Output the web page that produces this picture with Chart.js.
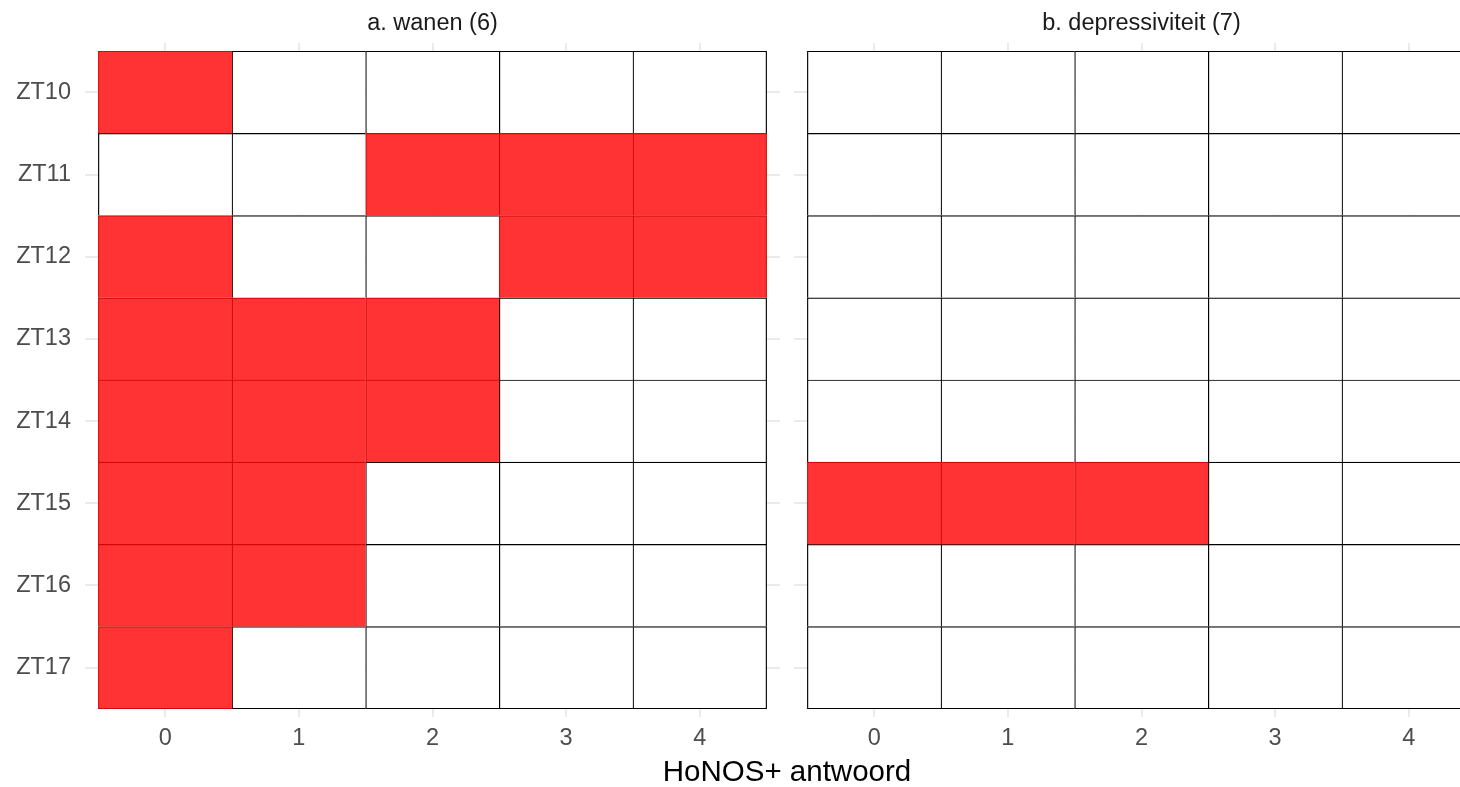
<!DOCTYPE html>
<html>
<head>
<meta charset="utf-8">
<script src="https://cdn.jsdelivr.net/npm/chart.js@4.4.1/dist/chart.umd.min.js"></script>
<style>
	html, body { margin: 0; padding: 0; background: #fff; overflow: hidden; width: 1460px; height: 787px; }
	#panelA { position: absolute; left: 0; top: 0; }
	#panelB { position: absolute; left: 794px; top: 0; }
	#xTitle {
		position: absolute; left: 587px; top: 754px; width: 400px; height: 33px;
		text-align: center; line-height: 33px;
		font-family: "Liberation Sans", Arial, sans-serif; font-size: 29.5px; color: #000;
	}
</style>
</head>
<body>
<canvas id="panelA" width="780" height="787"></canvas>
<canvas id="panelB" width="695" height="787"></canvas>
<div id="xTitle">HoNOS+ antwoord</div>
<script>
// rows (y) and answer options (x)
const rows = ['ZT10', 'ZT11', 'ZT12', 'ZT13', 'ZT14', 'ZT15', 'ZT16', 'ZT17'];
const answers = [0, 1, 2, 3, 4];
const panelTitles = ['a. wanen (6)', 'b. depressiviteit (7)'];

// 1 = filled (red), 0 = empty, one array per row, one value per answer
const wanen = [
	[1, 0, 0, 0, 0],
	[0, 0, 1, 1, 1],
	[1, 0, 0, 1, 1],
	[1, 1, 1, 0, 0],
	[1, 1, 1, 0, 0],
	[1, 1, 0, 0, 0],
	[1, 1, 0, 0, 0],
	[1, 0, 0, 0, 0]
];
const depressiviteit = [
	[0, 0, 0, 0, 0],
	[0, 0, 0, 0, 0],
	[0, 0, 0, 0, 0],
	[0, 0, 0, 0, 0],
	[0, 0, 0, 0, 0],
	[1, 1, 1, 0, 0],
	[0, 0, 0, 0, 0],
	[0, 0, 0, 0, 0]
];

const FONT = '"Liberation Sans", Arial, sans-serif';
const lastRow = rows.length - 1;
const lastCol = answers.length - 1;

function cells(values, filled) {
	let out = [];
	values.forEach((row, r) => {
		row.forEach((v, c) => {
			if (v === filled) out.push({ x: answers[c], y: [r - 0.5, r + 0.5] });
		});
	});
	return out;
}

// only top/left per tile, plus the outer right/bottom edge, so lines are not doubled
function cellBorder(ctx) {
	const p = ctx.raw;
	return {
		top: 1.2,
		left: 1.2,
		right: p.x === answers[lastCol] ? 1.2 : 0,
		bottom: p.y[1] === lastRow + 0.5 ? 1.2 : 0
	};
}

function makePanel(id, values, title, showY) {
	return new Chart(document.getElementById(id), {
		type: 'bar',
		data: {
			datasets: [
				{
					data: cells(values, 1),
					backgroundColor: '#FF3333',
					borderColor: 'rgb(210, 8, 8)',
					borderWidth: cellBorder,
					borderSkipped: false,
					grouped: false
				},
				{
					data: cells(values, 0),
					backgroundColor: '#FFFFFF',
					borderColor: '#000000',
					borderWidth: cellBorder,
					borderSkipped: false,
					grouped: false
				}
			]
		},
		options: {
			responsive: false,
			animation: false,
			events: [],
			devicePixelRatio: 1,
			layout: { padding: 0 },
			barPercentage: 1,
			categoryPercentage: 1,
			plugins: {
				legend: { display: false },
				tooltip: { enabled: false },
				title: {
					display: true,
					text: title,
					fullSize: false,
					color: '#1a1a1a',
					font: { family: FONT, size: 23.5, weight: 'normal', lineHeight: 1.2 },
					padding: { top: 9, bottom: 5.8 }
				}
			},
			scales: {
				x: {
					type: 'linear',
					min: -0.6,
					max: 4.6,
					offset: false,
					afterBuildTicks: s => { s.ticks = answers.map(v => ({ value: v })); },
					afterFit: s => { s.height = 70; },
					grid: { color: '#ebebeb', lineWidth: 2, drawTicks: false, offset: false },
					border: { display: false },
					ticks: {
						padding: 7,
						color: '#4d4d4d',
						font: { family: FONT, size: 23.5 },
						callback: v => String(v)
					}
				},
				y: {
					type: 'linear',
					reverse: true,
					min: -0.6,
					max: lastRow + 0.6,
					afterBuildTicks: s => { s.ticks = rows.map((r, i) => ({ value: i })); },
					afterFit: s => { s.width = showY ? 85 : 0; },
					grid: { color: '#ebebeb', lineWidth: 2, drawTicks: false },
					border: { display: false },
					ticks: {
						display: showY,
						padding: 14,
						color: '#4d4d4d',
						font: { family: FONT, size: 23.5 },
						callback: v => rows[v]
					}
				}
			}
		}
	});
}

makePanel('panelA', wanen, panelTitles[0], true);
makePanel('panelB', depressiviteit, panelTitles[1], false);
</script>
</body>
</html>
